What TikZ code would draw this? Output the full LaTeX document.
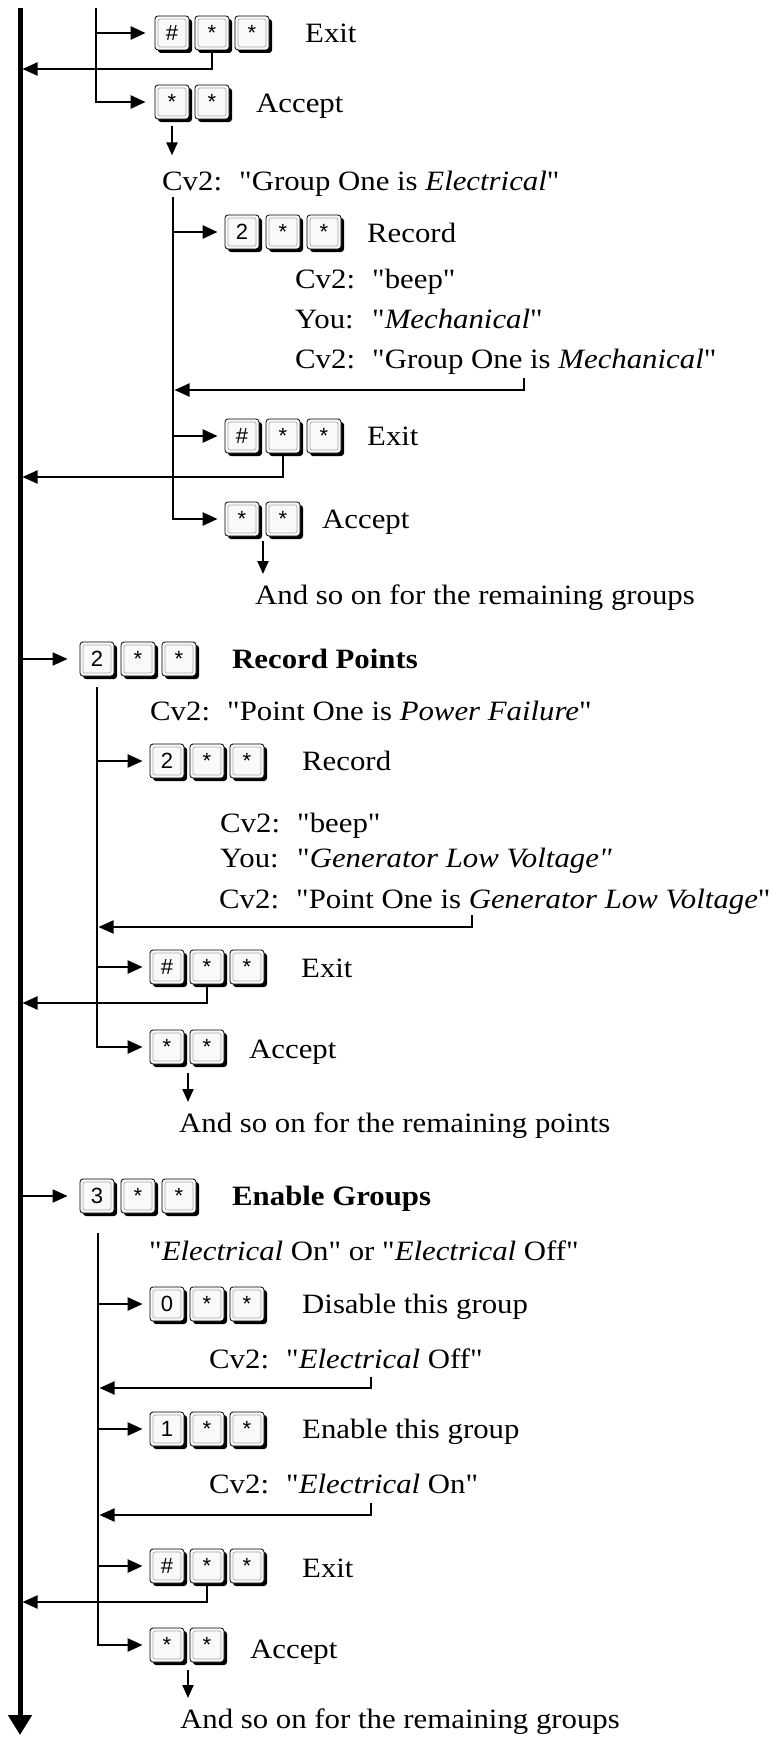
\documentclass[tikz,border=0pt]{standalone}
\usepackage{fontspec}
\setmainfont{Liberation Serif}[FakeStretch=1.1,Ligatures=TeXOff]
\newfontfamily\keyfont{Liberation Sans}
\usetikzlibrary{arrows.meta,shadows}
\newcommand{\cvlab}[1]{\makebox[77pt][l]{#1}}
\begin{document}
\begin{tikzpicture}[x=1pt,y=-1pt,
  txt/.style={anchor=base west,inner sep=0pt,font=\fontsize{28}{34}\selectfont},
  keycap/.style={draw=black,line width=0.8pt,fill=gray!5,rounded corners=3pt,
    minimum width=34pt,minimum height=34pt,inner sep=0pt,
    font=\keyfont\fontsize{22}{24}\selectfont,
    drop shadow={shadow xshift=3pt,shadow yshift=-3pt,fill=black,opacity=1},
    path picture={\draw[gray!65,line width=0.7pt,rounded corners=2pt]
      ([shift={(3pt,-3pt)}]path picture bounding box.north west) rectangle
      ([shift={(-3pt,3pt)}]path picture bounding box.south east);}},
  conn/.style={line width=2pt,-{Triangle[length=15pt,width=13pt]}},
  sub/.style={line width=2.5pt,-{Triangle[length=15pt,width=13pt]}},
  down/.style={line width=2pt,-{Triangle[length=13pt,width=11pt]}},
  mainline/.style={line width=5pt,-{Triangle[length=20pt,width=23pt]}}
]
\useasboundingbox (0,0) rectangle (780,1737);

% main line
\coordinate (mtop) at (20,8);
\coordinate (mbot) at (20,1735);
\draw[mainline] (mtop) -- (mbot);

% ---------- Section 1 ----------
\coordinate (s1top) at (96,8);
\node[keycap] (x1a) at (172,33) {\#};
\node[keycap] (x1b) at (212,33) {*};
\node[keycap] (x1c) at (252,33) {*};
\node[txt] (x1t) at (305,43) {Exit};
\node[keycap] (a1a) at (172,102) {*};
\node[keycap] (a1b) at (212,102) {*};
\node[txt] (a1t) at (256,112) {Accept};
\draw[sub] (s1top) |- ([xshift=-9pt]a1a.west);
\draw[sub] (s1top |- x1a.west) -- ([xshift=-9pt]x1a.west);
\coordinate (r1) at (22.5,69);
\draw[conn] ([yshift=-3pt]x1b.south) |- (r1);
\node[txt] (g1) at (162,190) {\cvlab{Cv2:}"Group One is \textit{Electrical}"};
\draw[down] ([yshift=-7pt]a1a.south) -- ++(0,29);

% group sub-branch
\coordinate (s1btop) at (173,197);
\node[keycap] (g2a) at (242,232) {2};
\node[keycap] (g2b) at (283,232) {*};
\node[keycap] (g2c) at (324,232) {*};
\node[txt] (g2t) at (367,242) {Record};
\node[txt] (g2l1) at (295,288) {\cvlab{Cv2:}"beep"};
\node[txt] (g2l2) at (295,328) {\cvlab{You:}"\textit{Mechanical}"};
\node[txt] (g2l3) at (295,368) {\cvlab{Cv2:}"Group One is \textit{Mechanical}"};
\node[keycap] (g3a) at (242,436) {\#};
\node[keycap] (g3b) at (283,436) {*};
\node[keycap] (g3c) at (324,436) {*};
\node[txt] (g3t) at (367,445) {Exit};
\node[keycap] (g4a) at (242,519) {*};
\node[keycap] (g4b) at (283,519) {*};
\node[txt] (g4t) at (322,528) {Accept};
\draw[sub] (s1btop) |- ([xshift=-7pt]g4a.west);
\draw[sub] (s1btop |- g2a.west) -- ([xshift=-7pt]g2a.west);
\draw[sub] (s1btop |- g3a.west) -- ([xshift=-7pt]g3a.west);
\coordinate (g2r) at (524,378);
\draw[conn] (g2r) |- (174.5,390);
\draw[conn] ([yshift=-3pt]g3b.south) |- (22.5,477);
\draw[down] (263,541) -- (263,574);
\node[txt] (g5) at (255,604) {And so on for the remaining groups};

% ---------- Section 2 ----------
\node[keycap] (p1a) at (97,659) {2};
\node[keycap] (p1b) at (138,659) {*};
\node[keycap] (p1c) at (179,659) {*};
\node[txt] (p1t) at (232,668) {\textbf{Record Points}};
\draw[conn] (mtop |- p1a.west) ++(2.5,0) -- ([xshift=-12pt]p1a.west);
\coordinate (s2top) at (97,687);
\node[txt] (p2) at (150,720) {\cvlab{Cv2:}"Point One is \textit{Power Failure}"};
\node[keycap] (p3a) at (167,761) {2};
\node[keycap] (p3b) at (207,761) {*};
\node[keycap] (p3c) at (247,761) {*};
\node[txt] (p3t) at (302,770) {Record};
\node[txt] (p3l1) at (220,832) {\cvlab{Cv2:}"beep"};
\node[txt] (p3l2) at (220,867) {\cvlab{You:}"\textit{Generator Low Voltage"}};
\node[txt] (p3l3) at (219,908) {\cvlab{Cv2:}"Point One is \textit{Generator Low Voltage}"};
\node[keycap] (p4a) at (167,967) {\#};
\node[keycap] (p4b) at (207,967) {*};
\node[keycap] (p4c) at (247,967) {*};
\node[txt] (p4t) at (301,977) {Exit};
\node[keycap] (p5a) at (167,1047) {*};
\node[keycap] (p5b) at (207,1047) {*};
\node[txt] (p5t) at (249,1058) {Accept};
\draw[sub] (s2top) |- ([xshift=-7pt]p5a.west);
\draw[sub] (s2top |- p3a.west) -- ([xshift=-7pt]p3a.west);
\draw[sub] (s2top |- p4a.west) -- ([xshift=-7pt]p4a.west);
\coordinate (p3r) at (472,915);
\draw[conn] (p3r) |- (98.5,927);
\draw[conn] ([yshift=-3pt]p4b.south) |- (22.5,1003);
\draw[down] (188,1073) -- (188,1102);
\node[txt] (p6) at (179,1132) {And so on for the remaining points};

% ---------- Section 3 ----------
\node[keycap] (e1a) at (97,1196) {3};
\node[keycap] (e1b) at (138,1196) {*};
\node[keycap] (e1c) at (179,1196) {*};
\node[txt] (e1t) at (232,1205) {\textbf{Enable Groups}};
\draw[conn] (mtop |- e1a.west) ++(2.5,0) -- ([xshift=-12pt]e1a.west);
\coordinate (s3top) at (98,1233);
\node[txt] (e2) at (149,1260) {"\textit{Electrical} On" or "\textit{Electrical} Off"};
\node[keycap] (e3a) at (167,1304) {0};
\node[keycap] (e3b) at (207,1304) {*};
\node[keycap] (e3c) at (247,1304) {*};
\node[txt] (e3t) at (302,1313) {Disable this group};
\node[txt] (e3l) at (209,1368) {\cvlab{Cv2:}"\textit{Electrical} Off"};
\node[keycap] (e4a) at (167,1429) {1};
\node[keycap] (e4b) at (207,1429) {*};
\node[keycap] (e4c) at (247,1429) {*};
\node[txt] (e4t) at (302,1438) {Enable this group};
\node[txt] (e4l) at (209,1493) {\cvlab{Cv2:}"\textit{Electrical} On"};
\node[keycap] (e5a) at (167,1566) {\#};
\node[keycap] (e5b) at (207,1566) {*};
\node[keycap] (e5c) at (247,1566) {*};
\node[txt] (e5t) at (302,1577) {Exit};
\node[keycap] (e6a) at (167,1645) {*};
\node[keycap] (e6b) at (207,1645) {*};
\node[txt] (e6t) at (250,1658) {Accept};
\draw[sub] (s3top) |- ([xshift=-7pt]e6a.west);
\draw[sub] (s3top |- e3a.west) -- ([xshift=-7pt]e3a.west);
\draw[sub] (s3top |- e4a.west) -- ([xshift=-7pt]e4a.west);
\draw[sub] (s3top |- e5a.west) -- ([xshift=-7pt]e5a.west);
\coordinate (e3r) at (371,1377);
\coordinate (e4r) at (371,1503);
\draw[conn] (e3r) |- (99.5,1388);
\draw[conn] (e4r) |- (99.5,1515);
\draw[conn] ([yshift=-3pt]e5b.south) |- (22.5,1602);
\draw[down] (188,1670) -- (188,1698);
\node[txt] (e7) at (180,1728) {And so on for the remaining groups};
\end{tikzpicture}
\end{document}
